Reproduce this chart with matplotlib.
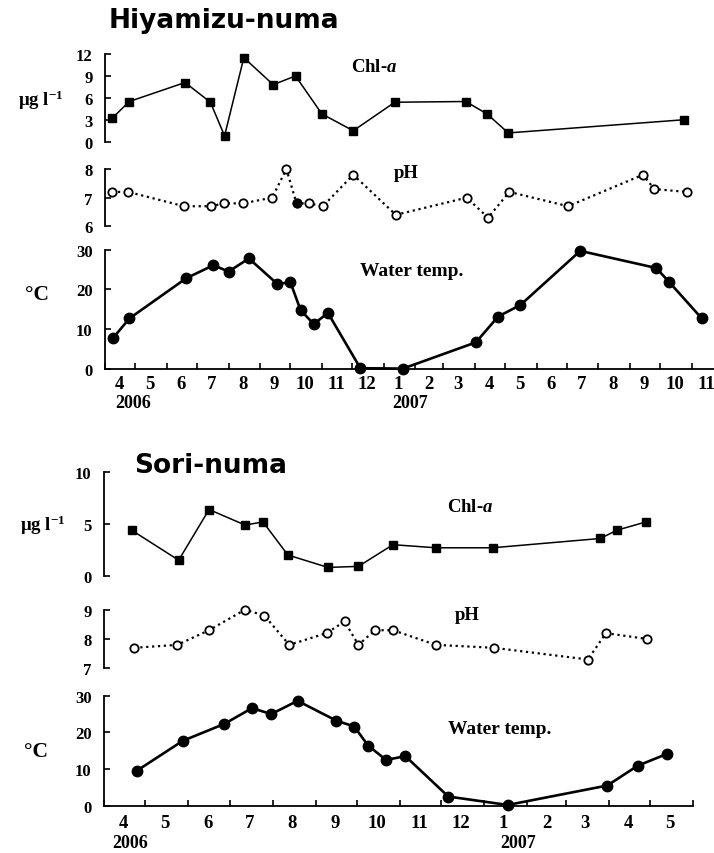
import matplotlib
matplotlib.use('Agg')
import matplotlib.pyplot as plt
import matplotlib.dates as mdates
import pandas as pd

# ---- Hiyamizu-numa ----
chl_dates_h = ['2006-04-08', '2006-04-25', '2006-06-19', '2006-07-14', '2006-07-28', '2006-08-16',
               '2006-09-14', '2006-10-06', '2006-11-01', '2006-12-02', '2007-01-12', '2007-03-23',
               '2007-04-13', '2007-05-04', '2007-10-24']
chl_h = [3.2, 5.5, 8.1, 5.4, 0.8, 11.5, 7.8, 9.0, 3.8, 1.5, 5.4, 5.5, 3.8, 1.2, 3.0]

ph_dates_h = ['2006-04-08', '2006-04-24', '2006-06-18', '2006-07-15', '2006-07-27', '2006-08-15',
              '2006-09-13', '2006-09-27', '2006-10-07', '2006-10-19', '2006-11-02', '2006-12-02',
              '2007-01-13', '2007-03-24', '2007-04-14', '2007-05-05', '2007-07-02', '2007-09-14',
              '2007-09-25', '2007-10-27']
ph_h = [7.2, 7.2, 6.7, 6.7, 6.8, 6.8, 7.0, 8.0, 6.8, 6.8, 6.7, 7.8, 6.4, 7.0, 6.3, 7.2, 6.7, 7.8, 7.3, 7.2]

temp_dates_h = ['2006-04-09', '2006-04-25', '2006-06-20', '2006-07-17', '2006-08-01', '2006-08-21',
                '2006-09-18', '2006-10-01', '2006-10-11', '2006-10-24', '2006-11-07', '2006-12-09',
                '2007-01-20', '2007-04-02', '2007-04-24', '2007-05-16', '2007-07-14', '2007-09-27',
                '2007-10-10', '2007-11-11']
temp_h = [7.8, 12.7, 22.8, 26.1, 24.5, 27.8, 21.4, 21.8, 14.8, 11.3, 14.1, 0.2, 0.1, 6.7, 13.2,
          16.1, 29.7, 25.4, 21.8, 12.7]

# ---- Sori-numa ----
chl_dates_s = ['2006-04-21', '2006-05-25', '2006-06-16', '2006-07-12', '2006-07-25', '2006-08-12',
               '2006-09-10', '2006-10-02', '2006-10-27', '2006-11-27', '2007-01-07', '2007-03-26',
               '2007-04-07', '2007-04-28']
chl_s = [4.4, 1.5, 6.4, 4.9, 5.2, 2.0, 0.8, 0.9, 3.0, 2.7, 2.7, 3.6, 4.4, 5.2]

ph_dates_s = ['2006-04-23', '2006-05-24', '2006-06-16', '2006-07-12', '2006-07-26', '2006-08-13',
              '2006-09-09', '2006-09-22', '2006-10-02', '2006-10-14', '2006-10-27', '2006-11-27',
              '2007-01-08', '2007-03-17', '2007-03-30', '2007-04-29']
ph_s = [7.7, 7.8, 8.3, 9.0, 8.8, 7.8, 8.2, 8.6, 7.8, 8.3, 8.3, 7.8, 7.7, 7.3, 8.2, 8.0]

temp_dates_s = ['2006-04-25', '2006-05-28', '2006-06-27', '2006-07-17', '2006-07-31', '2006-08-19',
                '2006-09-16', '2006-09-29', '2006-10-09', '2006-10-22', '2006-11-05', '2006-12-06',
                '2007-01-18', '2007-03-31', '2007-04-22', '2007-05-13']
temp_s = [9.6, 17.7, 22.3, 26.6, 25.0, 28.6, 23.2, 21.6, 16.4, 12.5, 13.5, 2.5, 0.2, 5.5, 10.9, 14.1]

plt.rcParams['font.family'] = 'Liberation Serif'
plt.rcParams['font.weight'] = 'bold'
plt.rcParams['mathtext.fontset'] = 'custom'
plt.rcParams['mathtext.rm'] = 'Liberation Serif:bold'
plt.rcParams['mathtext.bf'] = 'Liberation Serif:bold'
plt.rcParams['mathtext.it'] = 'Liberation Serif:italic:bold'

W, H = 714, 854
fig = plt.figure(figsize=(W / 100, H / 100), dpi=100)


def add_ax(left, top, right, bottom):
    return fig.add_axes([left / W, 1 - bottom / H, (right - left) / W, (bottom - top) / H])


def ftext(x, y, s, **kw):
    kw.setdefault('ha', 'center')
    kw.setdefault('va', 'center')
    fig.text(x / W, 1 - y / H, s, **kw)


def style_y(ax, ylim, yticks, xlim, show_x=False):
    ax.set_ylim(*ylim)
    ax.set_yticks(yticks)
    ax.set_xlim(pd.Timestamp(xlim[0]), pd.Timestamp(xlim[1]))
    ax.patch.set_alpha(0)
    ax.spines['top'].set_visible(False)
    ax.spines['right'].set_visible(False)
    ax.spines['left'].set_linewidth(1.3)
    ax.tick_params(axis='y', direction='in', length=4, width=1.2, labelsize=12, pad=9)
    if show_x:
        ax.spines['bottom'].set_linewidth(1.3)
        ax.xaxis.set_major_locator(mdates.MonthLocator(bymonthday=1))
        ax.xaxis.set_major_formatter(plt.NullFormatter())
        ax.xaxis.set_minor_locator(mdates.MonthLocator(bymonthday=15))
        ax.xaxis.set_minor_formatter(plt.FuncFormatter(lambda v, p: str(mdates.num2date(v).month)))
        ax.tick_params(axis='x', which='major', direction='in', length=4, width=1.2)
        ax.tick_params(axis='x', which='minor', length=0, labelsize=13.5, pad=4)
    else:
        ax.spines['bottom'].set_visible(False)
        ax.set_xticks([])


def draw_chl(ax, dates, vals):
    ax.plot(pd.to_datetime(dates), vals, '-s', color='black', lw=1.1, ms=5.5, clip_on=False)


def draw_ph(ax, dates, vals):
    ax.plot(pd.to_datetime(dates), vals, ':o', color='black', lw=1.6, ms=6,
            mfc='white', mec='black', mew=1.3, clip_on=False)


def draw_temp(ax, dates, vals):
    ax.plot(pd.to_datetime(dates), vals, '-o', color='black', lw=1.9, ms=7.5, clip_on=False,
            zorder=3)


# ===== Hiyamizu-numa (top) =====
xlim_h = ('2006-04-01', '2007-11-23')
ax1 = add_ax(105, 55, 714, 142.7)
style_y(ax1, (0, 12), [0, 3, 6, 9, 12], xlim_h)
draw_chl(ax1, chl_dates_h, chl_h)

ax2 = add_ax(105, 170, 714, 227.3)
style_y(ax2, (6, 8), [6, 7, 8], xlim_h)
draw_ph(ax2, ph_dates_h, ph_h)
# one sample drawn filled in the original
ax2.plot(pd.to_datetime(ph_dates_h[8]), ph_h[8], 'o', color='black', ms=6, clip_on=False, zorder=4)

ax3 = add_ax(105, 250.7, 714, 370)
style_y(ax3, (0, 30), [0, 10, 20, 30], xlim_h, show_x=True)
draw_temp(ax3, temp_dates_h, temp_h)

ftext(109, 28, 'Hiyamizu-numa', ha='left', va='baseline', family='DejaVu Sans',
      fontweight='bold', fontsize=19)
ftext(374, 68, 'Chl-$a$', fontsize=13.5)
ftext(406, 174, 'pH', fontsize=13.5)
ftext(412, 272, 'Water temp.', fontsize=14)
ftext(41, 100, r'μg l$^{-1}$', fontsize=13.5)
ftext(37, 295, '°C', fontsize=15.5)
ftext(133, 404, '2006', fontsize=13)
ftext(410, 404, '2007', fontsize=13)

# ===== Sori-numa (bottom) =====
xlim_s = ('2006-04-01', '2007-06-01')
ax4 = add_ax(104, 473.3, 693, 576.7)
style_y(ax4, (0, 10), [0, 5, 10], xlim_s)
draw_chl(ax4, chl_dates_s, chl_s)

ax5 = add_ax(104, 610.7, 693, 669.3)
style_y(ax5, (7, 9), [7, 8, 9], xlim_s)
draw_ph(ax5, ph_dates_s, ph_s)

ax6 = add_ax(104, 696.7, 693, 806.7)
style_y(ax6, (0, 30), [0, 10, 20, 30], xlim_s, show_x=True)
ax6.tick_params(axis='x', which='minor', pad=6)
draw_temp(ax6, temp_dates_s, temp_s)

ftext(134, 473, 'Sori-numa', ha='left', va='baseline', family='DejaVu Sans',
      fontweight='bold', fontsize=19)
ftext(470, 508, 'Chl-$a$', fontsize=13.5)
ftext(467, 615, 'pH', fontsize=13.5)
ftext(500, 730, 'Water temp.', fontsize=14)
ftext(43, 525, r'μg l$^{-1}$', fontsize=13.5)
ftext(36, 752, '°C', fontsize=15.5)
ftext(130, 844, '2006', fontsize=13)
ftext(518, 844, '2007', fontsize=13)

fig.savefig('out.png', dpi=100)
